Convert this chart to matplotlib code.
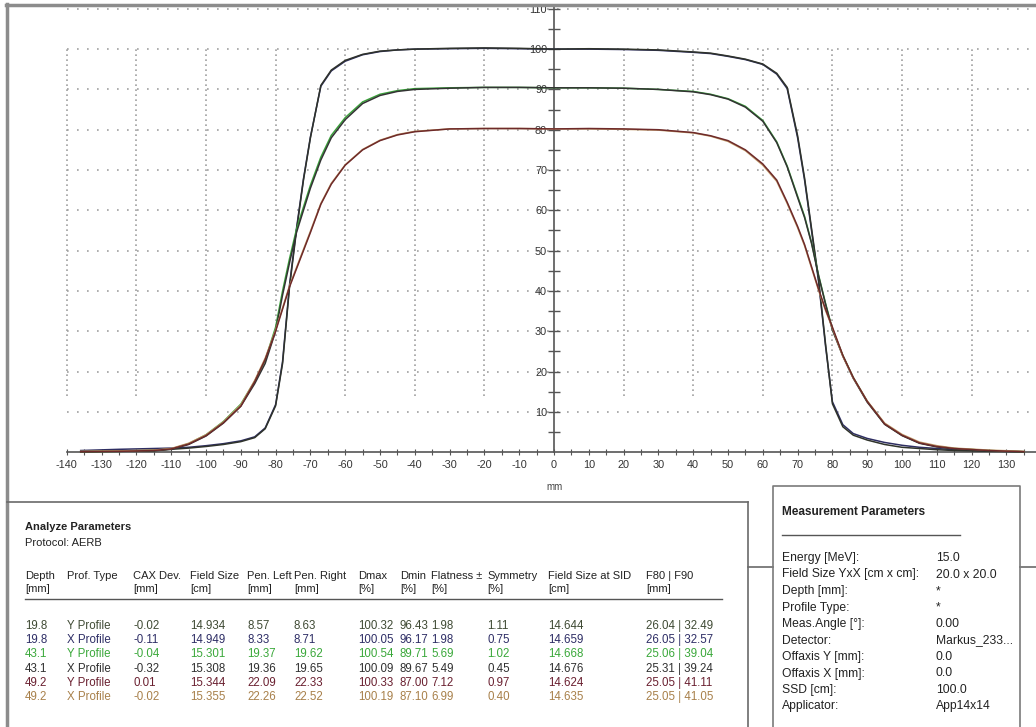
import matplotlib
matplotlib.use("Agg")
import matplotlib.pyplot as plt
from matplotlib import font_manager
import numpy as np

plt.rcParams["axes.unicode_minus"] = False

# ---- fonts ----
names = {f.name for f in font_manager.fontManager.ttflist}
narrow = "Liberation Sans Narrow" if "Liberation Sans Narrow" in names else "Liberation Sans"
sans = "Liberation Sans"

# ---- profile data (mm, %) ----
pos = [-136, -125, -115, -110, -105, -100, -95, -90, -86, -83, -80, -78, -76, -74,
       -72, -70, -67, -64, -60, -55, -50, -45, -40, -30, -20, -10, 0, 10, 20, 30,
       40, 45, 50, 55, 60, 64, 67, 70, 72, 74, 76, 78, 80, 83, 86, 90, 95, 100,
       105, 110, 115, 125, 135]

d198_y = [0.1, 0.3, 0.5, 0.7, 1.0, 1.4, 1.9, 2.6, 3.6, 5.8, 11.5, 22, 41, 55,
          67.5, 78, 91, 94.8, 97.2, 98.7, 99.5, 99.8, 100, 100.2, 100.3, 100.2, 100, 100.1, 100, 99.8,
          99.3, 99, 98.3, 97.5, 96.3, 94, 90.5, 78.5, 68, 55.5, 43, 27, 12, 6.3, 4.2, 3.0, 1.9, 1.2,
          0.9, 0.6, 0.4, 0.2, 0.1]
d198_x = [0.4, 0.7, 0.9, 1.0, 1.2, 1.6, 2.1, 2.8, 3.8, 6.0, 11.8, 22.5, 41.5, 55.5,
          67.8, 78.2, 90.8, 94.6, 97.0, 98.6, 99.4, 99.8, 100, 100.1, 100.2, 100.1, 100, 100, 99.9, 99.7,
          99.2, 98.9, 98.2, 97.4, 96.2, 93.8, 90.2, 78, 67.5, 55, 42.5, 26.5, 12.5, 6.8, 4.6, 3.4, 2.4, 1.7,
          1.2, 0.9, 0.6, 0.3, 0.1]
d431_y = [0.1, 0.2, 0.4, 0.8, 2.1, 4.3, 7.6, 11.9, 17.6, 22.8, 31, 40, 48, 55.3,
          60.8, 66.2, 73.2, 78.6, 83, 86.9, 88.8, 89.7, 90.2, 90.4, 90.5, 90.5, 90.4, 90.4, 90.3, 90,
          89.5, 88.8, 87.7, 85.8, 82.3, 77, 71, 63.5, 58.5, 52, 44, 37, 30.5, 24, 18.5, 12.6, 7, 4.2,
          2.3, 1.4, 0.9, 0.4, 0.1]
d431_x = [0.1, 0.2, 0.3, 0.7, 1.9, 4.0, 7.2, 11.4, 17, 22, 30, 39, 47, 54.5,
          60, 65.5, 72.5, 78, 82.5, 86.5, 88.5, 89.5, 90, 90.3, 90.5, 90.5, 90.4, 90.4, 90.3, 90,
          89.4, 88.7, 87.6, 85.6, 82.1, 76.8, 70.8, 63.2, 58.2, 51.8, 43.8, 36.8, 30.3, 23.8, 18.3, 12.4, 6.9, 4.1,
          2.2, 1.3, 0.8, 0.3, 0.1]
d492_y = [0.1, 0.2, 0.4, 0.8, 2.0, 4.1, 7.3, 11.4, 17.5, 23, 30, 35.5, 41, 45.5,
          50, 54.5, 61.5, 66.5, 71.2, 75, 77.3, 78.7, 79.5, 80.2, 80.3, 80.3, 80.2, 80.3, 80.2, 80,
          79.3, 78.5, 77.3, 75, 71.5, 67.5, 62, 56, 51.5, 46, 40.5, 35.5, 31, 24, 18.5, 12.6, 7, 4.2,
          2.3, 1.4, 0.9, 0.4, 0.1]
d492_x = [0.2, 0.3, 0.5, 0.9, 2.2, 4.3, 7.5, 11.7, 17.8, 23.3, 30.3, 35.8, 41.3, 45.8,
          50.3, 54.8, 61.7, 66.7, 71.3, 75.1, 77.4, 78.8, 79.6, 80.2, 80.3, 80.3, 80.2, 80.2, 80.1, 79.9,
          79.2, 78.4, 77.1, 74.8, 71.2, 67.2, 61.7, 55.7, 51.2, 45.7, 40.2, 35.2, 30.8, 23.8, 18.4, 12.7, 7.2, 4.4,
          2.5, 1.6, 1.0, 0.5, 0.2]

# drawing order: lighter partner first, darker one on top
curves = [
    (d198_x, "#2e2e62"),
    (d198_y, "#2f332b"),
    (d431_y, "#3aa23a"),
    (d431_x, "#333333"),
    (d492_x, "#c09a6a"),
    (d492_y, "#6e2a2a"),
]

# ---- table data ----
depths = ["19.8", "19.8", "43.1", "43.1", "49.2", "49.2"]
prof_types = ["Y Profile", "X Profile", "Y Profile", "X Profile", "Y Profile", "X Profile"]
cax_dev = ["-0.02", "-0.11", "-0.04", "-0.32", "0.01", "-0.02"]
field_size = ["14.934", "14.949", "15.301", "15.308", "15.344", "15.355"]
pen_left = ["8.57", "8.33", "19.37", "19.36", "22.09", "22.26"]
pen_right = ["8.63", "8.71", "19.62", "19.65", "22.33", "22.52"]
dmax = ["100.32", "100.05", "100.54", "100.09", "100.33", "100.19"]
dmin = ["96.43", "96.17", "89.71", "89.67", "87.00", "87.10"]
flatness = ["1.98", "1.98", "5.69", "5.49", "7.12", "6.99"]
symmetry = ["1.11", "0.75", "1.02", "0.45", "0.97", "0.40"]
fs_sid = ["14.644", "14.659", "14.668", "14.676", "14.624", "14.635"]
f80_f90 = ["26.04 | 32.49", "26.05 | 32.57", "25.06 | 39.04", "25.31 | 39.24",
           "25.05 | 41.11", "25.05 | 41.05"]
row_colors = ["#3f4a34", "#2e2e66", "#3aa83a", "#303030", "#6a2030", "#a8804a"]

headers1 = ["Depth", "Prof. Type", "CAX Dev.", "Field Size", "Pen. Left", "Pen. Right",
            "Dmax", "Dmin", "Flatness \u00b1", "Symmetry", "Field Size at SID", "F80 | F90"]
headers2 = ["[mm]", "", "[mm]", "[cm]", "[mm]", "[mm]", "[%]", "[%]", "[%]", "[%]", "[cm]", "[mm]"]

meas_labels = ["Energy [MeV]:", "Field Size YxX [cm x cm]:", "Depth [mm]:", "Profile Type:",
               "Meas.Angle [\u00b0]:", "Detector:", "Offaxis Y [mm]:", "Offaxis X [mm]:",
               "SSD [cm]:", "Applicator:"]
meas_values = ["15.0", "20.0 x 20.0", "*", "*", "0.00", "Markus_233...", "0.0", "0.0",
               "100.0", "App14x14"]

# ---- figure ----
W, H = 1036, 727
fig = plt.figure(figsize=(W / 100, H / 100), dpi=100)
ax = fig.add_axes([8 / W, 1 - 461 / H, 1028 / W, 455 / H])
ax.patch.set_alpha(0)
ax.set_xlim(-156.9, 138.5)
ax.set_ylim(-2.2, 110.7)

# grid
for g in np.arange(10, 111, 10):
    ax.plot([-140, 138.5], [g, g], color="#a0a0a0", lw=1.2, ls=(0, (1, 5)), zorder=1)
for g in [-140, -120, -100, -80, -60, -40, -20, 20, 40, 60, 80, 100, 120]:
    ax.plot([g, g], [14, 100], color="#a0a0a0", lw=1.2, ls=(0, (1, 2)), zorder=1)

for vals, c in curves:
    ax.plot(pos, vals, color=c, lw=1.1, zorder=3)

for s in ["top", "right"]:
    ax.spines[s].set_visible(False)
ax.spines["left"].set_position(("data", 0))
ax.spines["bottom"].set_position(("data", 0))
ax.spines["bottom"].set_bounds(-140, 138.5)
ax.spines["left"].set_bounds(0, 110.7)
for s in ["left", "bottom"]:
    ax.spines[s].set_color("#555555")
    ax.spines[s].set_linewidth(1.2)

ax.set_xticks(np.arange(-140, 131, 10))
ax.set_xticks(np.arange(-135, 136, 10), minor=True)
ax.set_yticks(np.arange(10, 111, 10))
ax.set_yticks(np.arange(5, 110, 10), minor=True)
ax.set_xticklabels([str(v) for v in np.arange(-140, 131, 10)])
ax.set_yticklabels([str(v) for v in np.arange(10, 111, 10)])
ax.tick_params(axis="x", which="both", direction="inout", length=4, width=0.8,
               color="#555555", labelsize=7.8, labelcolor="#333333", pad=4)
ax.tick_params(axis="y", which="both", direction="inout", length=9, width=1.0,
               color="#555555", labelsize=7.8, labelcolor="#333333", pad=0.5)
for lab in ax.get_xticklabels() + ax.get_yticklabels():
    lab.set_family(narrow)

# ---- overlay in pixel coordinates ----
ov = fig.add_axes([0, 0, 1, 1])
ov.set_xlim(0, W)
ov.set_ylim(H, 0)
ov.axis("off")
ov.patch.set_alpha(0)

ov.text(555, 487, "mm", ha="center", va="center", fontsize=7, color="#444444", family=narrow)

# frame lines
ov.plot([7, 7], [4, H], color="#8c8c8c", lw=2.5)
ov.plot([6, W], [5, 5], color="#8c8c8c", lw=2.5)
ov.plot([7, 748], [502, 502], color="#6a6a6a", lw=1.2)
ov.plot([748, 748], [502, H], color="#6a6a6a", lw=1.2)
ov.plot([748, 773], [567, 567], color="#6a6a6a", lw=1.2)
ov.plot([1020, W], [567, 567], color="#6a6a6a", lw=1.2)
ov.plot([773, 773, 1020, 1020], [H, 486, 486, H], color="#7a7a7a", lw=1.2)

# analyze parameters
tfs = 8.0
ov.text(25, 527, "Analyze Parameters", ha="left", va="center", fontsize=tfs,
        weight="bold", color="#222222", family=sans)
ov.text(25, 543, "Protocol: AERB", ha="left", va="center", fontsize=tfs,
        color="#222222", family=sans)

col_x = [25, 67, 133, 190, 247, 294, 358, 400, 431, 487, 548, 646]
for cx, h1, h2 in zip(col_x, headers1, headers2):
    ov.text(cx, 576, h1, ha="left", va="center", fontsize=tfs, color="#222222", family=sans)
    ov.text(cx, 589, h2, ha="left", va="center", fontsize=tfs, color="#222222", family=sans)
ov.plot([25, 722], [599, 599], color="#555555", lw=1.0)

columns = [depths, prof_types, cax_dev, field_size, pen_left, pen_right,
           dmax, dmin, flatness, symmetry, fs_sid, f80_f90]
for i, c in enumerate(row_colors):
    ry = 626 + i * 14.2
    for cx, col in zip(col_x, columns):
        ov.text(cx, ry, col[i], ha="left", va="center", fontsize=tfs + 0.3, color=c, family=sans)

# measurement parameters
ov.text(782, 512, "Measurement Parameters", ha="left", va="center", fontsize=8.5,
        weight="bold", color="#222222", family=sans)
ov.plot([782, 960], [535, 535], color="#555555", lw=1.0)
for i, (lab, val) in enumerate(zip(meas_labels, meas_values)):
    ry = 558 + i * 16.5
    ov.text(782, ry, lab, ha="left", va="center", fontsize=8.7, color="#222222", family=sans)
    ov.text(936, ry, val, ha="left", va="center", fontsize=8.7, color="#222222", family=sans)

fig.savefig("out.png", dpi=100)
